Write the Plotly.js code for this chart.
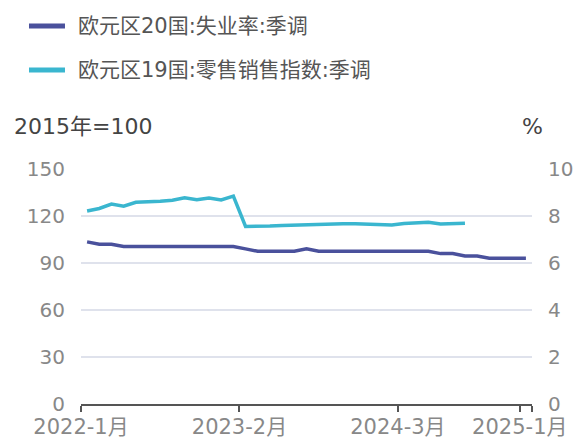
<!DOCTYPE html>
<html>
<head>
<meta charset="utf-8">
<script src="https://cdn.plot.ly/plotly-3.0.1.min.js"></script>
<style>html,body{margin:0;padding:0;background:#fff;}#chart{width:577px;height:440px;}</style>
</head>
<body>
<div id="chart"></div>
<script>
// Months (2022-01 .. 2025-01)
const months = [
  "2022-01","2022-02","2022-03","2022-04","2022-05","2022-06","2022-07","2022-08","2022-09","2022-10","2022-11","2022-12",
  "2023-01","2023-02","2023-03","2023-04","2023-05","2023-06","2023-07","2023-08","2023-09","2023-10","2023-11","2023-12",
  "2024-01","2024-02","2024-03","2024-04","2024-05","2024-06","2024-07","2024-08","2024-09","2024-10","2024-11","2024-12",
  "2025-01"
];
const seriesNames = ["欧元区20国:失业率:季调", "欧元区19国:零售销售指数:季调"];
// 欧元区20国:失业率:季调 (%)
const unemployment = [
  6.9,6.8,6.8,6.7,6.7,6.7,6.7,6.7,6.7,6.7,6.7,6.7,
  6.7,6.6,6.5,6.5,6.5,6.5,6.6,6.5,6.5,6.5,6.5,6.5,
  6.5,6.5,6.5,6.5,6.5,6.4,6.4,6.3,6.3,6.2,6.2,6.2,
  6.2
];
// 欧元区19国:零售销售指数:季调 (2015年=100)
const retail = [
  123.2,124.8,127.6,126.3,128.8,129.0,129.4,130.0,131.6,130.4,131.5,130.3,
  132.7,113.3,113.3,113.6,114.0,114.3,114.5,114.7,114.8,115.0,115.0,114.6,
  114.3,114.3,115.2,115.5,116.0,114.9,115.2,115.4
];
const tickMonths = ["2022-01","2023-02","2024-03","2025-01"];
const tickLabels = ["2022-1月","2023-2月","2024-3月","2025-1月"];
const colors = ['#4a519c', '#3ab6cf'];

// month index -> position (points plotted mid-month)
const idx = m => months.indexOf(m);
const xUnemp = unemployment.map((_, i) => i + 0.5);
const xRetail = retail.map((_, i) => i + 0.5);
const tickvals = tickMonths.map(idx).concat([months.length]);
const ticktext = tickLabels.concat([""]);

const FONT = '"DejaVu Sans", "Noto Sans CJK SC", sans-serif';

const data = [
  {x: xUnemp, y: unemployment, yaxis: 'y2', type: 'scatter', mode: 'lines',
   name: seriesNames[0], showlegend: false,
   line: {color: colors[0], width: 3.5}, hoverinfo: 'skip'},
  {x: xRetail, y: retail, yaxis: 'y', type: 'scatter', mode: 'lines',
   name: seriesNames[1], showlegend: false,
   line: {color: colors[1], width: 3.5}, hoverinfo: 'skip'}
];

// manual legend (paper coordinates)
const legY = [1.6085, 1.4213];
const shapes = seriesNames.map((n, k) => ({
  type: 'line', xref: 'paper', yref: 'paper',
  x0: -0.1153, x1: -0.0355, y0: legY[k], y1: legY[k],
  line: {color: colors[k], width: 5}
}));
const legendAnn = seriesNames.map((n, k) => ({
  text: n, xref: 'paper', yref: 'paper', x: -0.0111, y: legY[k],
  xanchor: 'left', yanchor: 'middle', showarrow: false,
  font: {size: 21, color: '#555'}
}));

const layout = {
  width: 577, height: 440,
  margin: {l: 81, r: 45, t: 169, b: 36, autoexpand: false},
  paper_bgcolor: '#fff', plot_bgcolor: '#fff',
  font: {family: FONT, size: 20, color: '#555'},
  showlegend: false,
  xaxis: {type: 'linear', range: [0, months.length], tickmode: 'array',
          tickvals: tickvals, ticktext: ticktext, tickangle: 0, showgrid: false, zeroline: false,
          showline: true, linecolor: '#555', linewidth: 2,
          ticks: 'outside', ticklen: 6, tickwidth: 2, tickcolor: '#555',
          ticklabelstandoff: -3,
          tickfont: {size: 21, color: '#888'}, fixedrange: true},
  yaxis: {range: [0, 150], dtick: 30, tick0: 0, showgrid: true,
          gridcolor: '#dfe2ec', gridwidth: 1.5, zeroline: false, showline: false,
          ticks: '', tickfont: {size: 20, color: '#888'}, ticklabelstandoff: 15,
          fixedrange: true},
  yaxis2: {range: [0, 10], dtick: 2, tick0: 0, overlaying: 'y', side: 'right',
           showgrid: false, zeroline: false, showline: false, ticks: '',
           tickfont: {size: 20, color: '#888'}, ticklabelstandoff: 15, fixedrange: true},
  shapes: shapes,
  annotations: legendAnn.concat([
    {text: '2015年=100', xref: 'paper', yref: 'paper', x: -0.153, y: 1.179,
     xanchor: 'left', yanchor: 'middle', showarrow: false,
     font: {size: 22, color: '#444'}},
    {text: '%', xref: 'paper', yref: 'paper', x: 1.0, y: 1.179,
     xanchor: 'center', yanchor: 'middle', showarrow: false,
     font: {size: 22, color: '#444'}}
  ])
};

Plotly.newPlot('chart', data, layout, {staticPlot: true, displayModeBar: false});
</script>
</body>
</html>
